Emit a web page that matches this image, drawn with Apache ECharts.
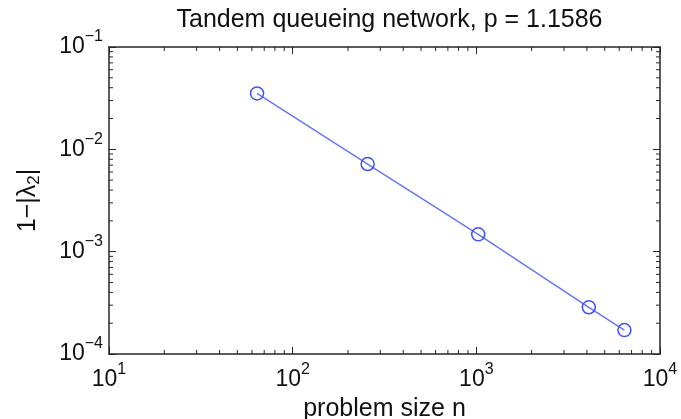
<!DOCTYPE html>
<html>
<head>
<meta charset="utf-8">
<script src="https://cdn.jsdelivr.net/npm/echarts@6/dist/echarts.min.js"></script>
<style>html,body{margin:0;padding:0;background:#fff}#c{width:681px;height:419px}</style>
</head>
<body>
<div id="c"></div>
<script>
const titleText = 'Tandem queueing network, p = 1.1586';
const xName = 'problem size n';
const problemSize = [64, 256, 1024, 4096, 6400];
const gap = [0.0352, 0.00718, 0.001476, 0.000286, 0.0001713];
const xRange = [10, 10000];
const yRange = [1e-4, 1e-1];
const xMinorTicks = [20,30,40,50,60,70,80,90,200,300,400,500,600,700,800,900,2000,3000,4000,5000,6000,7000,8000,9000];
const yMinorTicks = [2e-4,3e-4,4e-4,5e-4,6e-4,7e-4,8e-4,9e-4,2e-3,3e-3,4e-3,5e-3,6e-3,7e-3,8e-3,9e-3,2e-2,3e-2,4e-2,5e-2,6e-2,7e-2,8e-2,9e-2];

const FONT = 'Liberation Sans, Arial, Helvetica, sans-serif';
const AX = '#262626';

function powLabel(v) {
  const e = Math.round(Math.log10(v));
  const es = e < 0 ? '\u2212' + (-e) : String(e);
  return '{b|10}{s|' + es + '}';
}
const rich = {
  b: {fontSize: 23, lineHeight: 36, fontFamily: FONT, color: '#111', verticalAlign: 'middle'},
  s: {fontSize: 16, lineHeight: 16, fontFamily: FONT, color: '#111', verticalAlign: 'top'}
};

const chart = echarts.init(document.getElementById('c'), null, {renderer: 'canvas'});

function minorX(params, api) {
  const x = api.coord([api.value(0), 1e-3])[0];
  const cs = params.coordSys;
  const st = {stroke: AX, lineWidth: 1};
  return {type: 'group', children: [
    {type: 'line', shape: {x1: x, y1: cs.y + cs.height, x2: x, y2: cs.y + cs.height - 4}, style: st},
    {type: 'line', shape: {x1: x, y1: cs.y, x2: x, y2: cs.y + 4}, style: st}
  ]};
}
function minorY(params, api) {
  const y = api.coord([100, api.value(1)])[1];
  const cs = params.coordSys;
  const st = {stroke: AX, lineWidth: 1};
  return {type: 'group', children: [
    {type: 'line', shape: {x1: cs.x, y1: y, x2: cs.x + 4, y2: y}, style: st},
    {type: 'line', shape: {x1: cs.x + cs.width, y1: y, x2: cs.x + cs.width - 4, y2: y}, style: st}
  ]};
}

chart.setOption({
  animation: false,
  backgroundColor: '#fff',
  title: {
    text: titleText, left: 384.5, textAlign: 'center', top: 3,
    textStyle: {fontSize: 25, fontWeight: 'normal', fontFamily: FONT, color: '#111'}
  },
  grid: {left: 109, right: 21, top: 47, bottom: 65, containLabel: false, outerBoundsMode: 'none'},
  xAxis: [{
    type: 'log', logBase: 10, min: xRange[0], max: xRange[1],
    name: xName, nameLocation: 'middle', nameGap: 34,
    nameTextStyle: {fontSize: 25, fontFamily: FONT, color: '#111'},
    axisLine: {show: true, lineStyle: {color: AX, width: 1.5}},
    axisTick: {show: true, inside: true, length: 7, lineStyle: {color: AX, width: 1}},
    minorTick: {show: false},
    splitLine: {show: false},
    axisLabel: {formatter: powLabel, rich: rich, margin: 8}
  }, {
    type: 'log', logBase: 10, min: xRange[0], max: xRange[1], position: 'top',
    axisLine: {show: true, lineStyle: {color: AX, width: 1.5}},
    axisTick: {show: true, inside: true, length: 7, lineStyle: {color: AX, width: 1}},
    splitLine: {show: false}, axisLabel: {show: false}
  }],
  yAxis: [{
    type: 'log', logBase: 10, min: yRange[0], max: yRange[1],
    name: '{m|1\u2212|\u03bb}{sub|2}{m||}', nameLocation: 'middle', nameGap: 66, nameRotate: 90,
    nameTextStyle: {fontSize: 25, fontFamily: FONT, color: '#111',
      rich: {
        m: {fontSize: 25, lineHeight: 30, fontFamily: FONT, color: '#111', verticalAlign: 'middle'},
        sub: {fontSize: 17, lineHeight: 17, fontFamily: FONT, color: '#111', verticalAlign: 'bottom'}
      }},
    axisLine: {show: true, lineStyle: {color: AX, width: 1.5}},
    axisTick: {show: true, inside: true, length: 7, lineStyle: {color: AX, width: 1}},
    splitLine: {show: false},
    axisLabel: {formatter: powLabel, rich: rich, margin: 6}
  }, {
    type: 'log', logBase: 10, min: yRange[0], max: yRange[1], position: 'right',
    axisLine: {show: true, lineStyle: {color: AX, width: 1.5}},
    axisTick: {show: true, inside: true, length: 7, lineStyle: {color: AX, width: 1}},
    splitLine: {show: false}, axisLabel: {show: false}
  }],
  series: [{
    type: 'line', xAxisIndex: 0, yAxisIndex: 0,
    data: problemSize.map((n, i) => [n, gap[i]]),
    symbol: 'circle', symbolSize: 13,
    lineStyle: {color: '#6474f7', width: 1.4},
    itemStyle: {color: 'rgba(0,0,0,0)', borderColor: '#3f52f2', borderWidth: 1.5}
  }, {
    type: 'custom', xAxisIndex: 0, yAxisIndex: 0, silent: true, clip: false,
    renderItem: minorX, data: xMinorTicks.map(v => [v, 1e-3])
  }, {
    type: 'custom', xAxisIndex: 0, yAxisIndex: 0, silent: true, clip: false,
    renderItem: minorY, data: yMinorTicks.map(v => [100, v])
  }]
});
</script>
</body>
</html>
